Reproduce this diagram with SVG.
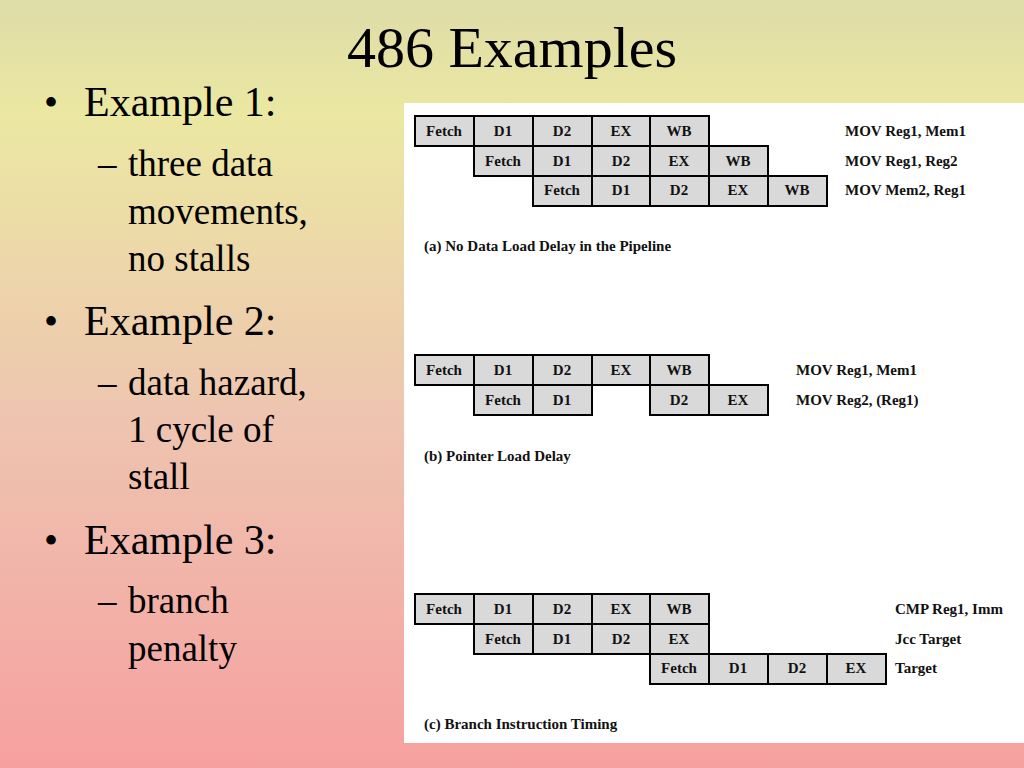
<svg xmlns="http://www.w3.org/2000/svg" width="1024" height="768" viewBox="0 0 1024 768">
<defs>
<linearGradient id="bg" x1="0" y1="0" x2="0" y2="1">
<stop offset="0" stop-color="#dedca8"/>
<stop offset="0.15" stop-color="#ebe8a2"/>
<stop offset="0.55" stop-color="#eec4b0"/>
<stop offset="1" stop-color="#f6a0a0"/>
</linearGradient>
<style>
.t{font-family:"Liberation Serif",serif;fill:#000}
.c{fill:#d9d9d9;stroke:#000;stroke-width:2}
.cl{font-family:"Liberation Serif",serif;font-weight:bold;font-size:15px;text-anchor:middle;fill:#111}
.lb{font-family:"Liberation Serif",serif;font-weight:bold;font-size:15px;fill:#111}
</style>
</defs>
<rect width="1024" height="768" fill="url(#bg)"/>
<text class="t" x="512" y="67" font-size="58" text-anchor="middle">486 Examples</text>
<g id="bullets" class="t">
<text x="44" y="116" font-size="40">•</text><text x="84" y="116" font-size="42">Example 1:</text>
<text x="98" y="176" font-size="37">–</text><text x="128" y="176" font-size="37">three data</text>
<text x="128" y="224" font-size="37">movements,</text>
<text x="128" y="271" font-size="37">no stalls</text>
<text x="44" y="335" font-size="40">•</text><text x="84" y="335" font-size="42">Example 2:</text>
<text x="98" y="395" font-size="37">–</text><text x="128" y="395" font-size="37">data hazard,</text>
<text x="128" y="442" font-size="37">1 cycle of</text>
<text x="128" y="489" font-size="37">stall</text>
<text x="44" y="554" font-size="40">•</text><text x="84" y="554" font-size="42">Example 3:</text>
<text x="98" y="613" font-size="37">–</text><text x="128" y="613" font-size="37">branch</text>
<text x="128" y="661" font-size="37">penalty</text>
</g>
<rect x="404" y="103" width="620" height="640" fill="#fff"/>
<g id="a">
<rect class="c" x="415" y="116" width="59" height="30"/><text class="cl" x="444" y="136">Fetch</text>
<rect class="c" x="474" y="116" width="59" height="30"/><text class="cl" x="503" y="136">D1</text>
<rect class="c" x="533" y="116" width="59" height="30"/><text class="cl" x="562" y="136">D2</text>
<rect class="c" x="592" y="116" width="58" height="30"/><text class="cl" x="621" y="136">EX</text>
<rect class="c" x="650" y="116" width="59" height="30"/><text class="cl" x="679" y="136">WB</text>
<rect class="c" x="474" y="146" width="59" height="30"/><text class="cl" x="503" y="166">Fetch</text>
<rect class="c" x="533" y="146" width="59" height="30"/><text class="cl" x="562" y="166">D1</text>
<rect class="c" x="592" y="146" width="58" height="30"/><text class="cl" x="621" y="166">D2</text>
<rect class="c" x="650" y="146" width="59" height="30"/><text class="cl" x="679" y="166">EX</text>
<rect class="c" x="709" y="146" width="59" height="30"/><text class="cl" x="738" y="166">WB</text>
<rect class="c" x="533" y="176" width="59" height="30"/><text class="cl" x="562" y="195">Fetch</text>
<rect class="c" x="592" y="176" width="58" height="30"/><text class="cl" x="621" y="195">D1</text>
<rect class="c" x="650" y="176" width="59" height="30"/><text class="cl" x="679" y="195">D2</text>
<rect class="c" x="709" y="176" width="59" height="30"/><text class="cl" x="738" y="195">EX</text>
<rect class="c" x="768" y="176" width="59" height="30"/><text class="cl" x="797" y="195">WB</text>
<text class="lb" x="845" y="136">MOV Reg1, Mem1</text>
<text class="lb" x="845" y="166">MOV Reg1, Reg2</text>
<text class="lb" x="845" y="195">MOV Mem2, Reg1</text>
<text class="lb" x="424" y="251" font-size="14">(a) No Data Load Delay in the Pipeline</text>
</g>
<g id="b">
<rect class="c" x="415" y="355" width="59" height="30"/><text class="cl" x="444" y="375">Fetch</text>
<rect class="c" x="474" y="355" width="59" height="30"/><text class="cl" x="503" y="375">D1</text>
<rect class="c" x="533" y="355" width="59" height="30"/><text class="cl" x="562" y="375">D2</text>
<rect class="c" x="592" y="355" width="58" height="30"/><text class="cl" x="621" y="375">EX</text>
<rect class="c" x="650" y="355" width="59" height="30"/><text class="cl" x="679" y="375">WB</text>
<rect class="c" x="474" y="385" width="59" height="30"/><text class="cl" x="503" y="405">Fetch</text>
<rect class="c" x="533" y="385" width="59" height="30"/><text class="cl" x="562" y="405">D1</text>
<rect class="c" x="650" y="385" width="59" height="30"/><text class="cl" x="679" y="405">D2</text>
<rect class="c" x="709" y="385" width="59" height="30"/><text class="cl" x="738" y="405">EX</text>
<text class="lb" x="796" y="375">MOV Reg1, Mem1</text>
<text class="lb" x="796" y="405">MOV Reg2, (Reg1)</text>
<text class="lb" x="424" y="461" font-size="14">(b) Pointer Load Delay</text>
</g>
<g id="c">
<rect class="c" x="415" y="594" width="59" height="30"/><text class="cl" x="444" y="614">Fetch</text>
<rect class="c" x="474" y="594" width="59" height="30"/><text class="cl" x="503" y="614">D1</text>
<rect class="c" x="533" y="594" width="59" height="30"/><text class="cl" x="562" y="614">D2</text>
<rect class="c" x="592" y="594" width="58" height="30"/><text class="cl" x="621" y="614">EX</text>
<rect class="c" x="650" y="594" width="59" height="30"/><text class="cl" x="679" y="614">WB</text>
<rect class="c" x="474" y="624" width="59" height="30"/><text class="cl" x="503" y="644">Fetch</text>
<rect class="c" x="533" y="624" width="59" height="30"/><text class="cl" x="562" y="644">D1</text>
<rect class="c" x="592" y="624" width="58" height="30"/><text class="cl" x="621" y="644">D2</text>
<rect class="c" x="650" y="624" width="59" height="30"/><text class="cl" x="679" y="644">EX</text>
<rect class="c" x="650" y="654" width="59" height="30"/><text class="cl" x="679" y="673">Fetch</text>
<rect class="c" x="709" y="654" width="59" height="30"/><text class="cl" x="738" y="673">D1</text>
<rect class="c" x="768" y="654" width="59" height="30"/><text class="cl" x="797" y="673">D2</text>
<rect class="c" x="827" y="654" width="59" height="30"/><text class="cl" x="856" y="673">EX</text>
<text class="lb" x="895" y="614">CMP Reg1, Imm</text>
<text class="lb" x="895" y="644">Jcc Target</text>
<text class="lb" x="895" y="673">Target</text>
<text class="lb" x="424" y="729" font-size="14">(c) Branch Instruction Timing</text>
</g>
<g id="connectors"/>
</svg>
